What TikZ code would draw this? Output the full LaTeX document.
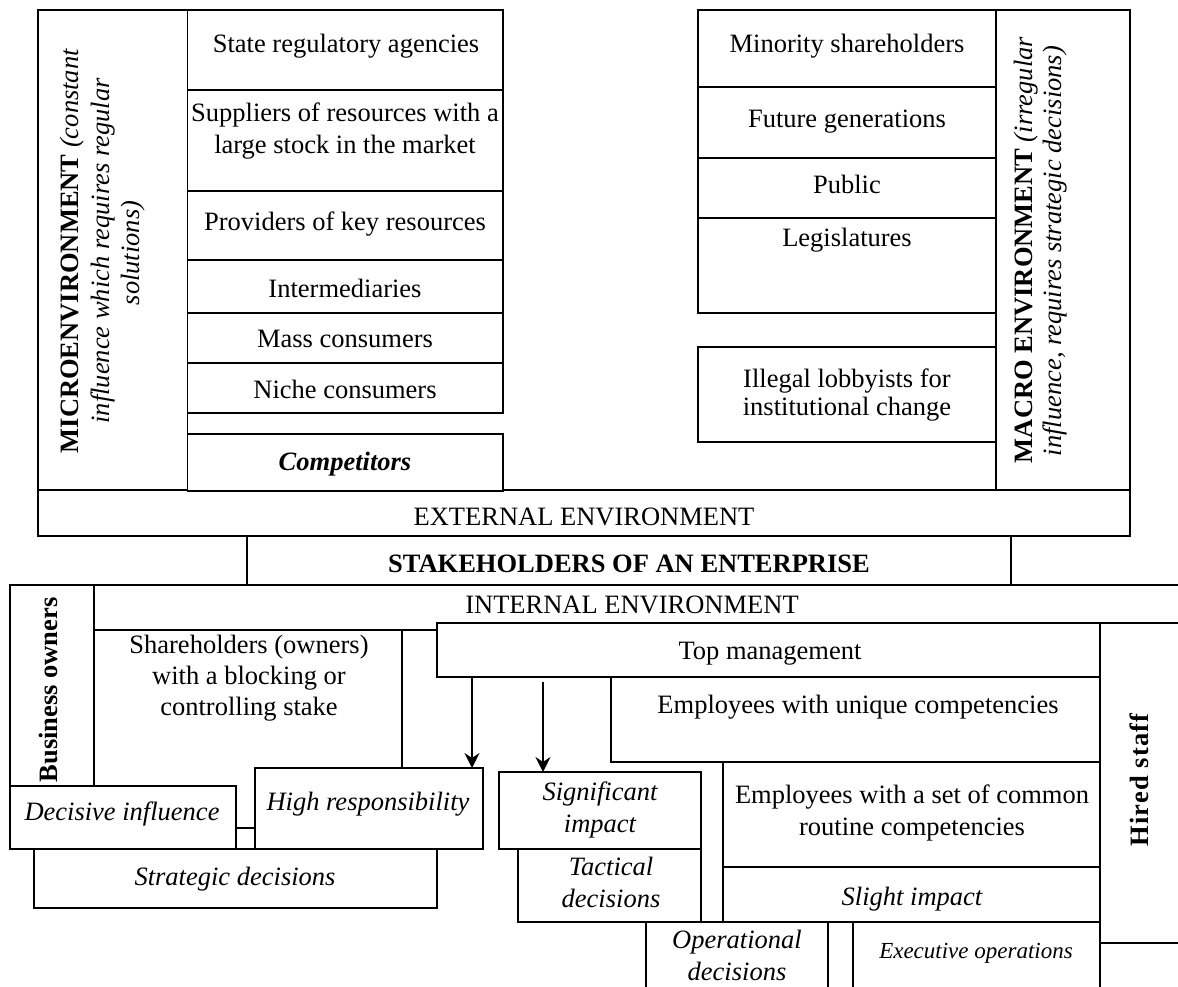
\documentclass[tikz,border=0pt]{standalone}
\usepackage{fontspec}
\setmainfont{Liberation Serif}
\usetikzlibrary{arrows.meta,calc}
\tikzset{
  bx/.style={draw, line width=1.8pt, fill=white, rectangle, inner sep=0pt, outer sep=0pt, anchor=north west},
  ln/.style={draw, line width=1.8pt},
  tx/.style={inner sep=0pt, outer sep=0pt, anchor=base, font=\fontsize{26.5}{31}\selectfont},
  it/.style={tx, font=\fontsize{26.5}{31}\selectfont\itshape},
  bf/.style={tx, font=\fontsize{26.5}{31}\selectfont\bfseries},
  rt/.style={rotate=90},
  arr/.style={line width=2.2pt, -{Stealth[length=15pt,width=15pt,inset=5pt]}}
}
\newcommand{\mkbox}[6][]{\node[bx,minimum width={#5pt-#3pt},minimum height={#6pt-#4pt},#1] (#2) at (#3,#4) {};}
\begin{document}
\begin{tikzpicture}[x=1pt,y=-1pt]
\useasboundingbox (0,0) rectangle (1178,987);
\clip (0,0) rectangle (1178,987);
\fill[white] (0,0) rectangle (1178,987);

% ---------- top: microenvironment ----------
\mkbox{mi}{38}{10}{187.5}{490}
\mkbox{sra}{187.5}{10}{503}{90}
\mkbox{sup}{187.5}{90}{503}{191}
\mkbox{prov}{187.5}{191}{503}{260}
\mkbox{inter}{187.5}{260}{503}{313}
\mkbox{mass}{187.5}{313}{503}{363}
\mkbox{niche}{187.5}{363}{503}{413}
% ---------- top: macro environment ----------
\mkbox{mino}{698}{10}{996}{87}
\mkbox{fut}{698}{87}{996}{158}
\mkbox{pub}{698}{158}{996}{218}
\mkbox{leg}{698}{218}{996}{313}
\mkbox{ill}{698}{347}{996}{442}
\mkbox{ma}{996}{10}{1130}{490}
% ---------- bands ----------
\mkbox{ext}{38}{490}{1130}{536}
\mkbox{comp}{187.5}{434}{503}{491}
\mkbox{stk}{247}{536}{1011}{585}

% ---------- internal environment ----------
\mkbox{bo}{10}{585}{94}{786}
\coordinate (ie-end) at (1200,585);
\draw[ln] (bo.north east) -- (ie-end);
\node[bf,rt] (t-bo) at (57,690) {Business owners};

\mkbox{tm}{437}{623}{1100}{677}
\coordinate (sh-tl) at (94,630);
\coordinate (sh-tr) at (402,630);
\draw[ln] (sh-tl) -- (sh-tl -| tm.west);
\mkbox{hs}{1100}{623}{1200}{943}
\coordinate (hs-low) at (1100,1000);
\draw[ln] (hs.south west) -- (hs-low);

\mkbox{eu}{611}{677}{1100}{762}
\mkbox{ec}{723}{762}{1100}{867}
\mkbox{sl}{723}{867}{1100}{922}
\mkbox{op}{646}{922}{828}{1000}
\mkbox{ex}{853}{922}{1100}{1000}
\mkbox{si}{499}{772}{701}{849}
\mkbox{ta}{518}{849}{701}{922}

\mkbox{sd}{34}{849}{437}{908}
\mkbox{di}{10}{786}{236}{849}
\mkbox{hr}{255}{768}{483}{849}
\draw[ln] (sh-tr) -- (sh-tr |- hr.north);
\coordinate (cn) at (236,828);
\draw[ln] (cn) -- (cn -| hr.west);

% ---------- arrows ----------
\draw[arr] ([xshift=35pt]tm.south west) -- ([xshift=35pt]tm.south west |- hr.north);
\draw[arr] ([xshift=106pt,yshift=-5pt]tm.south west) -- ([xshift=106pt]tm.south west |- si.north);

% ---------- texts: top left ----------
\node[tx,rt] (t-mi1) at (78,251) {\textbf{MICROENVIRONMENT} \textit{(constant}};
\node[it,rt] (t-mi2) at (109,251) {influence which requires regular};
\node[it,rt] (t-mi3) at (139,253) {solutions)};
\node[tx] (t-sra) at (346,53) {State regulatory agencies};
\node[tx] (t-sup1) at (345,122) {Suppliers of resources with a};
\node[tx] (t-sup2) at (345,154) {large stock in the market};
\node[tx] (t-prov) at (345,230) {Providers of key resources};
\node[tx] (t-int) at (345,297) {Intermediaries};
\node[tx] (t-mass) at (345,347) {Mass consumers};
\node[tx] (t-niche) at (345,398) {Niche consumers};
\node[tx,font=\fontsize{26.5}{31}\selectfont\bfseries\itshape] (t-comp) at (345,470) {Competitors};
% ---------- texts: top right ----------
\node[tx] (t-mino) at (847,53) {Minority shareholders};
\node[tx] (t-fut) at (847,128) {Future generations};
\node[tx] (t-pub) at (847,194) {Public};
\node[tx] (t-leg) at (847,247) {Legislatures};
\node[tx] (t-ill1) at (847,387) {Illegal lobbyists for};
\node[tx] (t-ill2) at (847,415) {institutional change};
\node[tx,rt] (t-ma1) at (1032,250) {\textbf{MACRO ENVIRONMENT} \textit{(irregular}};
\node[it,rt] (t-ma2) at (1061,251) {influence, requires strategic decisions)};
% ---------- texts: bands ----------
\node[tx] (t-ext) at (584,525) {EXTERNAL ENVIRONMENT};
\node[bf] (t-stk) at (629,572) {STAKEHOLDERS OF AN ENTERPRISE};
\node[tx] (t-int2) at (632,613) {INTERNAL ENVIRONMENT};
% ---------- texts: internal ----------
\node[tx] (t-sh1) at (249,653) {Shareholders (owners)};
\node[tx] (t-sh2) at (249,684) {with a blocking or};
\node[tx] (t-sh3) at (249,715) {controlling stake};
\node[tx] (t-tm) at (770,659) {Top management};
\node[tx] (t-eu) at (858,713) {Employees with unique competencies};
\node[tx] (t-ec1) at (912,803) {Employees with a set of common};
\node[tx] (t-ec2) at (912,835) {routine competencies};
\node[it] (t-sl) at (912,905) {Slight impact};
\node[it] (t-si1) at (600,800) {Significant};
\node[it] (t-si2) at (600,832) {impact};
\node[it] (t-ta1) at (611,875) {Tactical};
\node[it] (t-ta2) at (611,907) {decisions};
\node[it] (t-op1) at (737,948) {Operational};
\node[it] (t-op2) at (737,980) {decisions};
\node[it,font=\fontsize{23}{28}\selectfont\itshape] (t-ex) at (976,958) {Executive operations};
\node[bf,rt,font=\fontsize{26.5}{31}\selectfont\bfseries\addfontfeature{LetterSpace=4.5}] (t-hs) at (1148,780) {Hired staff};
\node[it] (t-di) at (122,820) {Decisive influence};
\node[it] (t-hr) at (368,810) {High responsibility};
\node[it] (t-sd) at (235,885) {Strategic decisions};
\end{tikzpicture}
\end{document}
